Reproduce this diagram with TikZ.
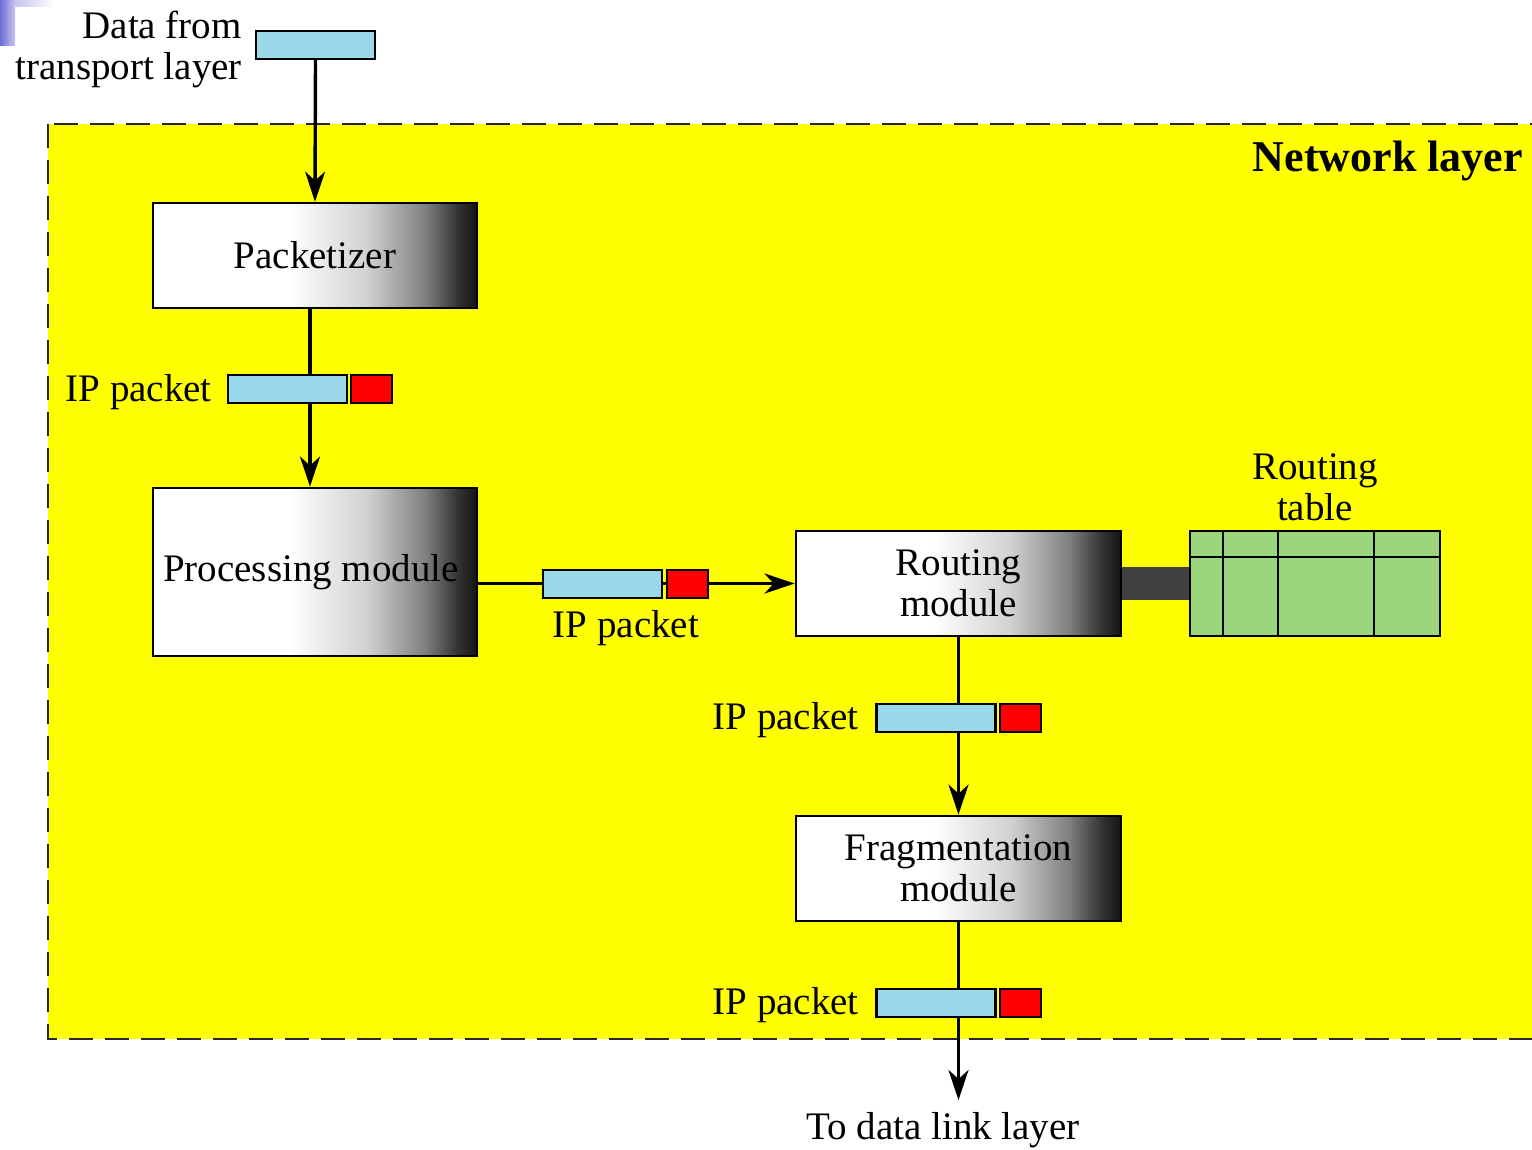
\documentclass[tikz,border=0pt]{standalone}
\usepackage{fontspec}
\setmainfont{Liberation Serif}
\usetikzlibrary{arrows.meta}
\definecolor{pktblue}{RGB}{153,217,234}
\definecolor{pktred}{RGB}{255,0,0}
\definecolor{tblgreen}{RGB}{155,213,125}
\definecolor{barcol}{RGB}{64,64,64}
\definecolor{cornerpurple}{RGB}{110,110,215}
\definecolor{layeryellow}{RGB}{255,255,0}
\pgfdeclarehorizontalshading{modshade}{100bp}{color(0bp)=(white); color(25bp)=(white); color(46bp)=(white); color(58bp)=(black!18); color(67bp)=(black!50); color(72bp)=(black!80); color(75bp)=(black!92); color(100bp)=(black!92)}
\tikzset{
  txt/.style={font=\fontsize{39}{41}\selectfont, inner sep=0pt, align=center},
  module/.style={draw, line width=2.8pt, shading=modshade, minimum width=324pt, inner sep=0pt, font=\fontsize{39}{41}\selectfont, align=center},
  pkt/.style={draw, line width=2.2pt, fill=pktblue, minimum width=119pt, minimum height=28pt, inner sep=0pt},
  hdr/.style={draw, line width=2.2pt, fill=pktred, minimum width=41pt, minimum height=28pt, inner sep=0pt},
  flow/.style={line width=3.4pt, -{Stealth[length=30pt, width=20pt, inset=9pt]}},
}
\begin{document}
\begin{tikzpicture}[x=1pt, y=-1pt]
\useasboundingbox (0,0) rectangle (1532,1149);
\fill[white] (0,0) rectangle (1532,1149);
% corner decoration
\shade[left color=cornerpurple, right color=cornerpurple!40] (0,0) rectangle (15,45);
\shade[left color=cornerpurple!40, right color=white] (15,0) rectangle (55,6);
% network layer frame
\path[fill=layeryellow, draw=black!85, line width=2.8pt, dash pattern=on 24pt off 12pt] (48,124) rectangle (1560,1039);
\node[txt, font=\fontsize{44}{48}\selectfont\bfseries, anchor=east] (nl) at (1523,161) {Network layer};

% top packet and label
\node[pkt] (p0) at (315.5,45) {};
\node[txt, align=right, anchor=east] (l0) at (242,49) {Data from\\transport layer};

% modules
\node[module, minimum height=105pt] (pack) at (315,255.5) {\raisebox{-3pt}{Packetizer}};
\node[module, minimum height=168pt] (proc) at (315,572) {\hspace*{-8pt}\raisebox{-3pt}{Processing module}};
\node[module, minimum width=325pt, minimum height=105pt] (rout) at (958.5,583.5) {Routing\\module};
\node[module, minimum width=325pt, minimum height=105pt] (frag) at (958.5,868.5) {Fragmentation\\module};

% routing table
\node[draw, line width=2.5pt, fill=tblgreen, minimum width=250pt, minimum height=105pt, inner sep=0pt] (rt) at (1315,583.5) {};
\draw[line width=2.5pt] ([yshift=-27pt]rt.north west) -- ([yshift=-27pt]rt.north east);
\draw[line width=2.5pt] ([xshift=34pt]rt.north west) -- ([xshift=34pt]rt.south west);
\draw[line width=2.5pt] ([xshift=89pt]rt.north west) -- ([xshift=89pt]rt.south west);
\draw[line width=2.5pt] ([xshift=185pt]rt.north west) -- ([xshift=185pt]rt.south west);
\node[txt] (rtl) at (1315,487) {Routing\\table};
% bar between routing module and table
\draw[barcol, line width=33pt] (rout.east) -- (rt.west);

% connectors
\coordinate (out) at (958.5,1100);
\draw[flow] (p0.south) -- (pack.north);
\draw[flow] ([xshift=-5pt]pack.south) -- ([xshift=-5pt]proc.north);
\draw[flow] (proc.east |- rout.west) -- (rout.west);
\draw[flow] (rout.south) -- (frag.north);
\draw[flow] (frag.south) -- (out);

% packets on connectors
\node[pkt] (p1) at (287.5,389) {};
\node[hdr] (h1) at (371.5,389) {};
\node[txt, anchor=east] (l1) at (212,392) {IP packet};

\node[pkt] (p2) at (602.5,584) {};
\node[hdr] (h2) at (687.5,584) {};
\node[txt] (l2) at (626,628) {IP packet};

\node[pkt] (p3) at (936,718) {};
\node[hdr] (h3) at (1020.5,718) {};
\node[txt, anchor=east] (l3) at (859,720) {IP packet};

\node[pkt] (p4) at (936,1003) {};
\node[hdr] (h4) at (1020.5,1003) {};
\node[txt, anchor=east] (l4) at (859,1005) {IP packet};

\node[txt] (l5) at (943,1130) {To data link layer};
\end{tikzpicture}
\end{document}
